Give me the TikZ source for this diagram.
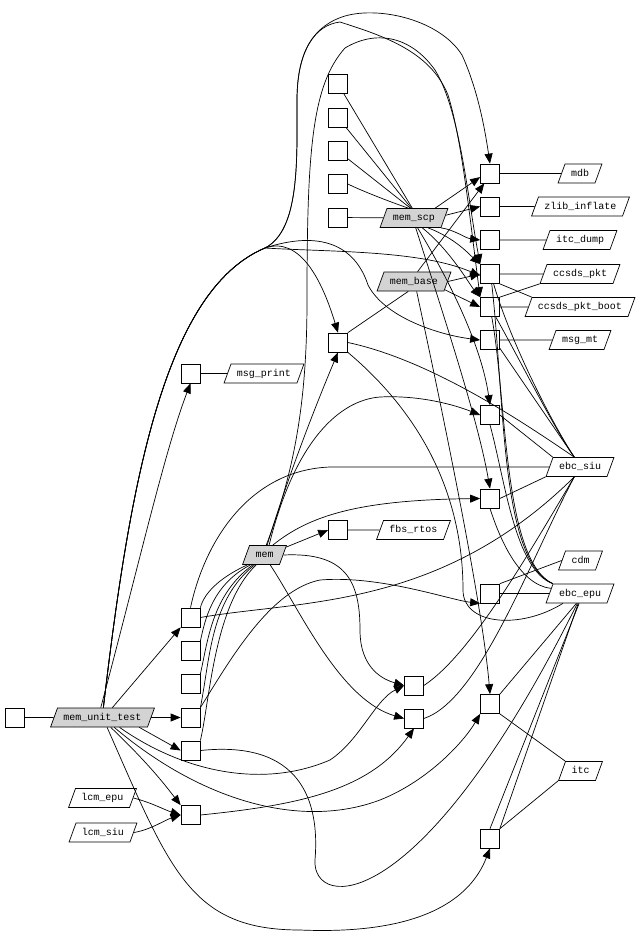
\documentclass[tikz,border=0pt]{standalone}
\usepackage{fontspec}
\setmonofont{Liberation Mono}
\usepackage{xcolor}
\usepackage{tikz}
\usetikzlibrary{shapes.geometric,arrows.meta}
\definecolor{lightgrey}{RGB}{211,211,211}

\begin{document}
\begin{tikzpicture}[
    x=1pt, y=-1pt, line width=0.7pt,
    filebox/.style={rectangle, draw, minimum size=19pt, inner sep=0pt},
    symbol/.style={trapezium, trapezium left angle=70, trapezium right angle=110, draw, text height=7pt, text depth=2pt, inner xsep=6pt, inner ysep=5pt, font=\ttfamily\fontsize{10}{10}\selectfont},
    module/.style={symbol, fill=lightgrey},
    arrow/.style={-{Triangle[length=10pt, width=8pt]}}
]
\useasboundingbox (0,0) rectangle (642,946);

\node[filebox] (lead) at (15,717.5) {};
\node[module] (memunit) at (102.5,717.5) {mem\_unit\_test};
\node[symbol] (lcmepu) at (102.5,798) {lcm\_epu};
\node[symbol] (lcmsiu) at (103,832.5) {lcm\_siu};

\node[filebox] (tc1) at (190.5,617.5) {};
\node[filebox] (tc2) at (190.5,651) {};
\node[filebox] (tc3) at (190.5,684) {};
\node[filebox] (tc4) at (190.5,717.5) {};
\node[filebox] (tc5) at (190.5,750.5) {};
\node[filebox] (tc6) at (190.5,815) {};
\node[filebox] (kp) at (190.5,373.5) {};
\node[symbol] (msgprint) at (264,373.5) {msg\_print};
\node[module] (mem) at (264.5,555) {mem};

\node[filebox] (sc1) at (338,84) {};
\node[filebox] (sc2) at (338,117.5) {};
\node[filebox] (sc3) at (338,151) {};
\node[filebox] (sc4) at (338,184) {};
\node[filebox] (sc5) at (338,217.5) {};
\node[filebox] (kb) at (338,342.5) {};
\node[filebox] (kf) at (338,530) {};
\node[module] (memscp) at (414,218) {mem\_scp};
\node[module] (membase) at (414,281.5) {mem\_base};
\node[symbol] (fbsrtos) at (413.5,530) {fbs\_rtos};
\node[filebox] (wc1) at (414,685.5) {};
\node[filebox] (wc2) at (414,718.5) {};

\node[filebox] (rc1) at (490,173.5) {};
\node[filebox] (rc2) at (490,206.5) {};
\node[filebox] (rc3) at (490,240) {};
\node[filebox] (rc4) at (490,274) {};
\node[filebox] (rc5) at (490,307) {};
\node[filebox] (rc6) at (490,340) {};
\node[filebox] (rc7) at (490,415) {};
\node[filebox] (rc8) at (490,498.5) {};
\node[filebox] (rc9) at (490,593.5) {};
\node[filebox] (rc10) at (490,704) {};
\node[filebox] (rc11) at (490,838.5) {};

\node[symbol] (mdb) at (580,173.5) {mdb};
\node[symbol] (zlib) at (580.5,206.5) {zlib\_inflate};
\node[symbol] (itcdump) at (580,240) {itc\_dump};
\node[symbol] (ccsds) at (580,274) {ccsds\_pkt};
\node[symbol] (ccsdsboot) at (580,307) {ccsds\_pkt\_boot};
\node[symbol] (msgmt) at (580,340) {msg\_mt};
\node[symbol] (ebcsiu) at (580,467) {ebc\_siu};
\node[symbol] (cdm) at (580.5,560.5) {cdm};
\node[symbol] (ebcepu) at (580,593.5) {ebc\_epu};
\node[symbol] (itc) at (580.5,771) {itc};

\coordinate (fork) at (265,248);

\draw (lead) -- (memunit);
\draw (rc1) -- (mdb);
\draw (rc2) -- (zlib);
\draw (rc3) -- (itcdump);
\draw (rc4) -- (ccsds);
\draw (rc5) -- (ccsdsboot);
\draw (rc6) -- (msgmt);
\draw (rc9) -- (ebcepu);
\draw (rc4.south east) -- (ccsdsboot.top left corner);
\draw (rc5.north east) -- (ccsds.bottom left corner);
\draw (rc9.north east) -- (cdm.west);
\draw (rc10.south east) -- (itc.top left corner);
\draw (rc11.north east) -- (itc.bottom left corner);
\draw (sc1) -- (memscp.100);
\draw (sc2) -- (memscp.105);
\draw (sc3) -- (memscp.110);
\draw (sc4.east) .. controls (360,190) and (385,200) .. (memscp.120);
\draw (sc5) -- (memscp);
\draw (membase.-120) -- (kb.north east);
\draw (kp) -- (msgprint);
\draw (kf) -- (fbsrtos);

\draw (mem.-150) .. controls (225,575) and (205,590) .. (tc1.north east);
\draw (mem.-145) .. controls (212,585) and (205,620) .. (tc2.north east);
\draw (mem.-140) .. controls (212,595) and (208,640) .. (tc3.north east);
\draw (mem.-135) .. controls (210,600) and (210,660) .. (tc4.north east);
\draw (mem.-130) .. controls (214,605) and (210,700) .. (tc5.north east);

\draw (rc4.-70) .. controls (510,340) and (550,420) .. (ebcsiu.120);
\draw (rc5.-60) .. controls (520,360) and (555,430) .. (ebcsiu.120);
\draw (rc6.-40) -- (ebcsiu.120);
\draw (rc7.east) -- (ebcsiu.top left corner);
\draw (kb.east) .. controls (430,360) and (520,420) .. (ebcsiu.120);
\draw (rc8.east) -- (ebcsiu.bottom left corner);
\draw (ebcsiu.west) -- (330,467) .. controls (250,470) and (205,540) .. (tc1.north);
\draw (wc1.east) .. controls (470,655) and (525,560) .. (ebcsiu.-120);
\draw (wc2.east) .. controls (480,700) and (530,560) .. (ebcsiu.-120);
\draw (tc1.east) .. controls (300,600) and (440,610) .. (ebcsiu.-120);

\draw (rc4.-80) .. controls (505,400) and (500,560) .. (ebcepu.top left corner);
\draw (rc5.-80) .. controls (507,400) and (503,560) .. (ebcepu.top left corner);
\draw (rc7.south) .. controls (505,480) and (515,570) .. (ebcepu.top left corner);
\draw (rc8.south) .. controls (500,540) and (520,585) .. (ebcepu.170);
\draw (kb.south east) .. controls (440,430) and (463,520) .. (463,590) .. controls (463,625) and (520,630) .. (ebcepu.-150);
\draw (rc10.north east) -- (ebcepu.-110);
\draw (rc11.north east) -- (ebcepu.-100);
\draw (rc11.north) -- (ebcepu.-95);
\draw (tc5.east) .. controls (300,740) and (320,800) .. (315,860) .. controls (312,910) and (420,920) .. (ebcepu.-105);

\draw[arrow] (memscp.25) -- (rc1.200);
\draw[arrow] (membase.70) -- (rc1.-120);
\draw[arrow] (memscp.5) -- (rc2.west);
\draw[arrow] (memscp.-20) .. controls (455,230) and (465,238) .. (rc3.west);
\draw[arrow] (memscp.-35) .. controls (455,238) and (470,255) .. (rc4.north west);
\draw[arrow] (memscp.-50) .. controls (450,250) and (470,285) .. (rc5.north west);
\draw[arrow] (membase.east) -- (rc4.west);
\draw[arrow] (membase.-15) -- (rc5.west);
\draw[arrow] (memscp.-70) .. controls (455,290) and (482,350) .. (rc7.north);
\draw[arrow] (memscp.-80) .. controls (445,320) and (478,420) .. (rc8.north);
\draw[arrow] (membase.-75) .. controls (440,400) and (482,600) .. (rc10.north);

\draw[arrow] (memunit.85) .. controls (130,480) and (165,290) .. (fork) .. controls (300,230) and (297,160) .. (297,100) .. controls (297,50) and (315,25) .. (345,16) .. controls (380,6) and (440,20) .. (462,55) .. controls (478,90) and (485,130) .. (rc1.north);
\draw[arrow] (memunit.85) .. controls (130,480) and (165,290) .. (fork) .. controls (300,230) and (297,160) .. (297,100) .. controls (297,50) and (315,25) .. (340,22) .. controls (380,35) and (430,50) .. (448,95) .. controls (462,140) and (470,220) .. (rc5.north west);
\draw[arrow] (memunit.85) .. controls (130,480) and (165,290) .. (fork) .. controls (320,230) and (355,245) .. (368,285) .. controls (385,318) and (440,335) .. (rc6.west);
\draw[arrow] (memunit.85) .. controls (130,480) and (165,290) .. (fork) .. controls (300,236) and (322,280) .. (kb.north);
\draw[arrow] (fork) .. controls (330,252) and (420,250) .. (rc4.190);

\draw[arrow] (mem.80) .. controls (295,470) and (307,400) .. (307,300) .. controls (307,150) and (312,85) .. (345,48) .. controls (375,30) and (410,35) .. (435,70) .. controls (460,110) and (468,200) .. (rc4.north west);
\draw[arrow] (mem.75) .. controls (290,470) and (318,400) .. (kb.south);
\draw[arrow] (mem.65) .. controls (295,440) and (340,400) .. (380,397) .. controls (420,395) and (455,405) .. (rc7.west);
\draw[arrow] (mem.50) .. controls (310,515) and (360,500) .. (rc8.west);
\draw[arrow] (mem.20) -- (kf.west);
\draw[arrow] (mem.east) .. controls (345,552) and (360,580) .. (360,630) .. controls (360,670) and (385,680) .. (wc1.west);
\draw[arrow] (mem.-60) .. controls (300,610) and (340,700) .. (wc2.west);

\draw[arrow] (memunit.100) .. controls (140,560) and (165,450) .. (kp.south);
\draw[arrow] (memunit.45) -- (tc1.south west);
\draw[arrow] (memunit.east) -- (tc4.west);
\draw[arrow] (memunit.-15) -- (tc5.west);
\draw[arrow] (memunit.-50) .. controls (150,765) and (165,785) .. (tc6.north west);
\draw[arrow] (lcmepu.east) .. controls (150,802) and (165,810) .. (tc6.west);
\draw[arrow] (lcmsiu.east) .. controls (150,830) and (165,820) .. (tc6.west);
\draw[arrow] (memunit.-65) .. controls (170,870) and (190,930) .. (300,930) .. controls (420,935) and (470,900) .. (rc11.south);
\draw[arrow] (memunit.-30) .. controls (180,770) and (260,790) .. (330,760) .. controls (360,740) and (375,700) .. (wc1.west);
\draw[arrow] (memunit.-40) .. controls (200,800) and (300,830) .. (380,800) .. controls (430,780) and (465,740) .. (rc10.south west);
\draw[arrow] (tc6.east) .. controls (300,805) and (370,790) .. (wc2.south);
\draw[arrow] (tc4.north east) .. controls (230,660) and (270,590) .. (320,580) .. controls (380,575) and (450,600) .. (rc9.south west);

\end{tikzpicture}
\end{document}
